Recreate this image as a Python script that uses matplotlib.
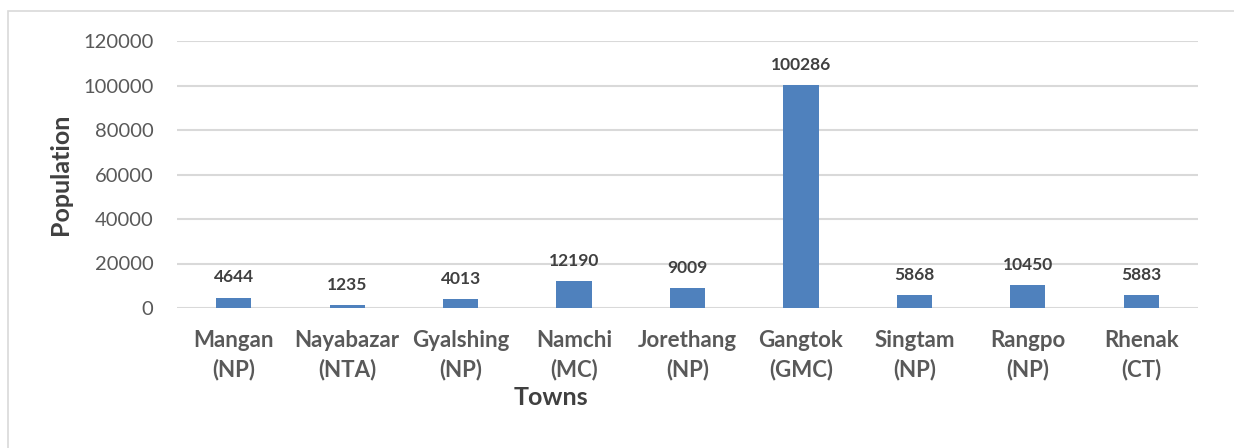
import matplotlib.pyplot as plt
from matplotlib.patches import Rectangle

plt.rcParams['font.family'] = ['Lato', 'DejaVu Sans']

towns = ['Mangan\n(NP)', 'Nayabazar\n(NTA)', 'Gyalshing\n(NP)', 'Namchi\n(MC)',
         'Jorethang\n(NP)', 'Gangtok\n(GMC)', 'Singtam\n(NP)', 'Rangpo\n(NP)', 'Rhenak\n(CT)']
population = [4644, 1235, 4013, 12190, 9009, 100286, 5868, 10450, 5883]
yticks = [0, 20000, 40000, 60000, 80000, 100000, 120000]

fig = plt.figure(figsize=(12.34, 4.48), dpi=100)
fig.patches.append(Rectangle((8 / 1234, -0.1), 1.2, 1.1 - 11 / 448, transform=fig.transFigure,
                             fill=False, edgecolor='#D9D9D9', linewidth=1.2))
ax = fig.add_axes([177 / 1234, 1 - 308 / 448, (1198 - 177) / 1234, (308 - 41) / 448])

x = range(len(towns))
bars = ax.bar(x, population, width=0.31, color='#4F81BD', zorder=3)
for b, v in zip(bars, population):
    ax.text(b.get_x() + b.get_width() / 2, v + 5500, str(v), ha='center', va='bottom',
            fontsize=12.5, fontweight='bold', color='#404040')

ax.set_xlim(-0.5, len(towns) - 0.5)
ax.set_ylim(0, 120000)
ax.set_yticks(yticks)
ax.set_yticklabels([str(t) for t in yticks], fontsize=14.5, color='#595959')
ax.set_xticks(list(x))
ax.set_xticklabels(towns, fontsize=16, fontweight='bold', color='#595959', linespacing=1.4)
ax.tick_params(axis='y', length=0, pad=17)
ax.tick_params(axis='x', length=0, pad=16)
ax.grid(axis='y', color='#D9D9D9', linewidth=1.5, zorder=0)
for s in ax.spines.values():
    s.set_visible(False)

fig.text(60 / 1234, 1 - 174 / 448, 'Population', rotation=90, ha='center', va='center',
         fontsize=18, fontweight='bold', color='#404040')
fig.text(551 / 1234, 1 - 397 / 448, 'Towns', ha='center', va='center',
         fontsize=18, fontweight='bold', color='#404040')

fig.savefig('out.png', dpi=100)
